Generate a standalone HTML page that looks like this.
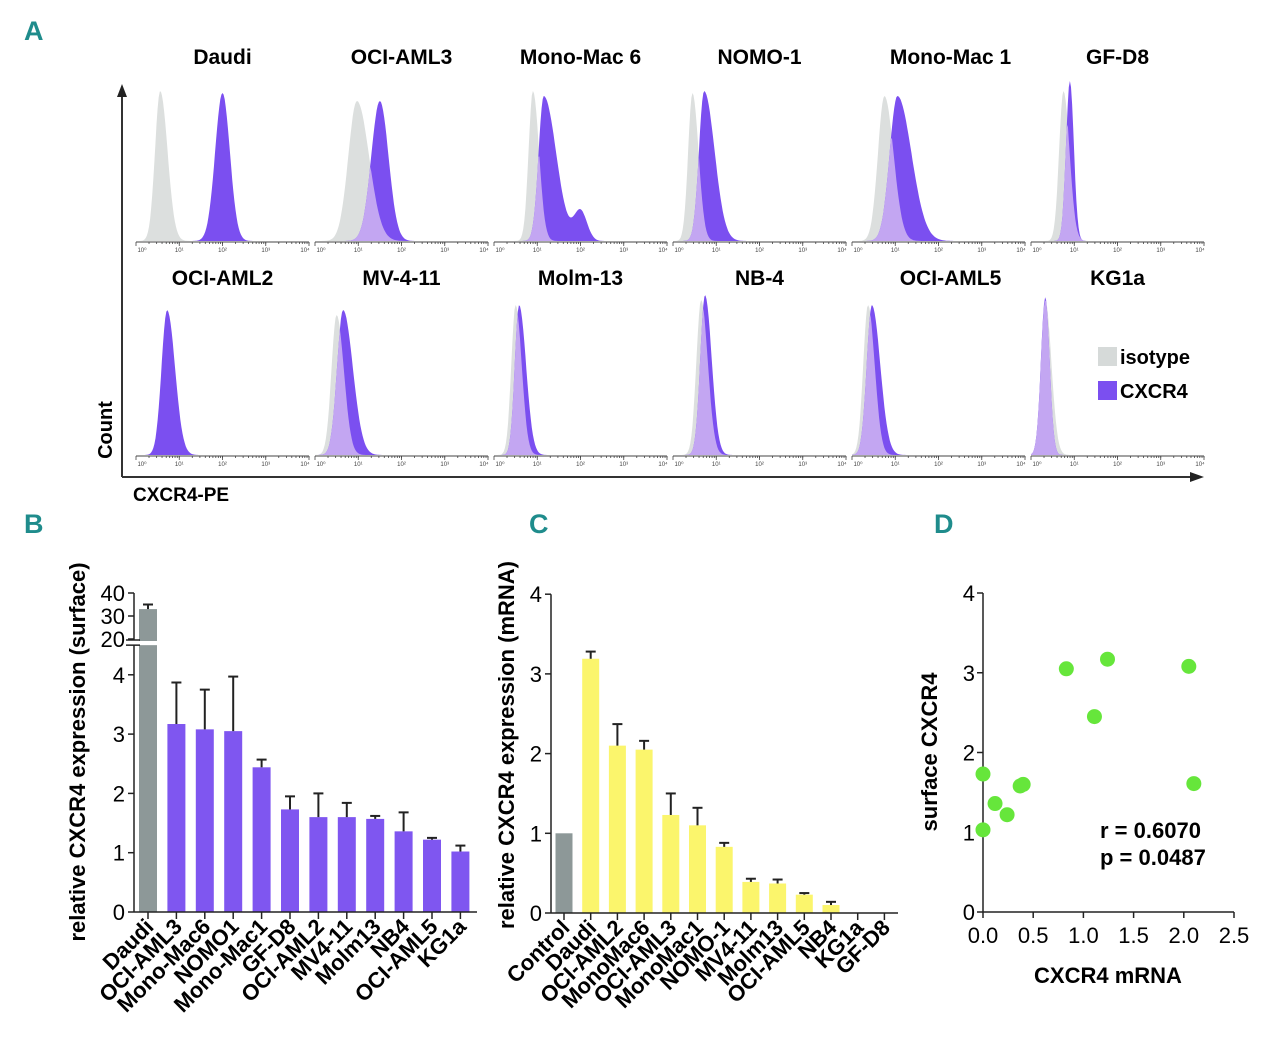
<!DOCTYPE html>
<html><head><meta charset="utf-8"><style>
body{margin:0;background:#fff;}
svg{display:block;font-family:"Liberation Sans",sans-serif;}
.pl{font-family:"Liberation Sans Narrow","Liberation Sans",sans-serif;font-weight:bold;fill:#1f8c8c;font-size:27px;}
.ht{font-weight:bold;font-size:21px;text-anchor:middle;}
.tk{font-size:22px;}
.cat{font-weight:bold;font-size:22px;text-anchor:end;}
.yt{font-weight:bold;font-size:22px;text-anchor:middle;}
.sm{font-size:6px;fill:#444;text-anchor:middle;}
</style></head><body>
<svg id="fig" width="1280" height="1054" viewBox="0 0 1280 1054">
<text class="pl" x="24" y="40">A</text>
<text class="pl" x="24" y="533">B</text>
<text class="pl" x="529" y="533">C</text>
<text class="pl" x="934" y="533">D</text>
<g id="hist"></g>
<g id="barB"></g>
<g id="barC"></g>
<g id="scat"></g>
</svg>
<script>
// ---------- Panel A data ----------
const histNames=["Daudi","OCI-AML3","Mono-Mac 6","NOMO-1","Mono-Mac 1","GF-D8","OCI-AML2","MV-4-11","Molm-13","NB-4","OCI-AML5","KG1a"];
const isoPeak=[0.56,0.97,0.9,0.45,0.75,0.75,0.72,0.5,0.5,0.65,0.37,0.33];
const isoSigma=[0.12,0.2,0.1,0.1,0.15,0.1,0.12,0.12,0.1,0.11,0.11,0.1];
const isoHeight=[150,140,150,148,145,150,140,140,150,155,150,155];
const cxPeak=[2.0,1.5,1.15,0.72,1.05,0.9,0.72,0.65,0.58,0.74,0.46,0.33];
const cxSigma=[0.17,0.2,0.12,0.12,0.18,0.09,0.13,0.14,0.1,0.11,0.12,0.1];
const cxHeight=[148,140,145,150,145,160,145,145,150,160,150,158];
const cxTail=[0,0,0.35,0.25,0.2,0,0.1,0.15,0.15,0.1,0.15,0];
const cxBump=[0,0,30,0,0,0,0,0,0,0,0,0];
const NS="http://www.w3.org/2000/svg";
function mk(tag,attrs,parent){const e=document.createElementNS(NS,tag);for(const k in attrs)e.setAttribute(k,attrs[k]);parent.appendChild(e);return e;}
const hist=document.getElementById('hist');
const panelX0=136,pitch=179,pw=173,base=[241,455];
function shape(d,p,s,h,tail){const sg=d<p?s:s*(1+tail*4);return h*Math.exp(-0.5*((d-p)/sg)**2);}
mk('line',{x1:122,y1:477,x2:122,y2:95,stroke:'#333','stroke-width':2},hist);
mk('polygon',{points:'117,97 127,97 122,84',fill:'#222'},hist);
mk('line',{x1:122,y1:477,x2:1192,y2:477,stroke:'#333','stroke-width':2},hist);
mk('polygon',{points:'1190,472 1190,482 1204,477',fill:'#222'},hist);
let t=mk('text',{x:112,y:430,transform:'rotate(-90 112 430)','font-weight':'bold','font-size':20,'text-anchor':'middle'},hist);t.textContent='Count';

t=mk('text',{x:133,y:501,'font-weight':'bold','font-size':19},hist);t.textContent='CXCR4-PE';

histNames.forEach((nm,i)=>{
  const row=Math.floor(i/6),col=i%6,x0=panelX0+col*pitch,b=base[row];
  const g=mk('g',{},hist);
  
  
  const N=160;let pi=[],pc=[],po=[];
  for(let k=0;k<=N;k++){const d=4*k/N,x=x0+d*pw/4;
    const iv=shape(d,isoPeak[i],isoSigma[i],isoHeight[i],0.1);
    let cv=shape(d,cxPeak[i],cxSigma[i],cxHeight[i],cxTail[i]);
    if(cxBump[i])cv+=cxBump[i]*Math.exp(-0.5*((d-2.0)/0.15)**2);
    pi.push(x.toFixed(1)+','+(b-iv).toFixed(1));pc.push(x.toFixed(1)+','+(b-cv).toFixed(1));po.push(x.toFixed(1)+','+(b-Math.min(iv,cv)).toFixed(1));}
  const close=' '+(x0+pw)+','+b+' '+x0+','+b;
  if(i!==6)mk('polygon',{points:pi.join(' ')+close,fill:'#dcdfde'},g);
  mk('polygon',{points:pc.join(' ')+close,fill:'#7b4ff0'},g);
  if(i!==6)mk('polygon',{points:po.join(' ')+close,fill:'#c3a6f2'},g);
  mk('line',{x1:x0,y1:b+1,x2:x0+pw,y2:b+1,stroke:'#444','stroke-width':1},g);
  for(let dd=0;dd<4;dd++)for(let m=1;m<=10;m++){const x=x0+(dd+Math.log10(m))*pw/4;mk('line',{x1:x,y1:b+1,x2:x,y2:b+(m===1?5:3),stroke:'#444','stroke-width':0.8},g);}
  mk('line',{x1:x0+pw,y1:b+1,x2:x0+pw,y2:b+5,stroke:'#444','stroke-width':0.8},g);
  for(let dd=0;dd<=4;dd++){const tx=mk('text',{x:x0+dd*pw/4+(dd===0?6:dd===4?-4:0),y:b+11,class:'sm'},g);tx.textContent='10'+String.fromCharCode([8304,185,178,179,8308][dd]);}
  const tt=mk('text',{x:x0+pw/2+(col===4?12:0),y:row?285:64,class:'ht'},g);tt.textContent=nm;
  
});
const lg=mk('g',{},hist);
mk('rect',{x:1098,y:347,width:19,height:19,fill:'#d6dad9'},lg);
mk('rect',{x:1098,y:381,width:19,height:19,fill:'#7b4ff0'},lg);
t=mk('text',{x:1120,y:364,'font-weight':'bold','font-size':20},lg);t.textContent='isotype';
t=mk('text',{x:1120,y:398,'font-weight':'bold','font-size':20},lg);t.textContent='CXCR4';

// ---------- Panel B data ----------
const bCats=["Daudi","OCI-AML3","Mono-Mac6","NOMO1","Mono-Mac1","GF-D8","OCI-AML2","MV4-11","Molm13","NB4","OCI-AML5","KG1a"];
const bVals=[33,3.17,3.08,3.05,2.44,1.73,1.6,1.6,1.57,1.36,1.22,1.02];
const bErr=[35,3.87,3.75,3.97,2.57,1.95,2.0,1.84,1.62,1.68,1.25,1.12];
const bLowTicks=[0,1,2,3,4];const bHighTicks=[20,30,40];
(function(){
  const g=document.getElementById('barB');
  const ax=134,y0=912,sc=59.3,hy20=639,hsc=2.3;
  const yl=v=>y0-v*sc, yh=v=>hy20-(v-20)*hsc;
  const bx=i=>148+i*28.4;
  bCats.forEach((c,i)=>{
    const v=bVals[i],e=bErr[i],x=bx(i);
    const r=mk('g',{},g);
    const col=i===0?'#8d9898':'#7f56f0';
    if(v>4.5){mk('rect',{x:x-9,y:yl(4.5),width:18,height:y0-yl(4.5),fill:col},r);
      mk('rect',{x:x-9,y:yh(v),width:18,height:hy20-yh(v)+2,fill:col},r);
      mk('line',{x1:x,y1:yh(v),x2:x,y2:yh(e),stroke:'#222','stroke-width':2},r);mk('line',{x1:x-5,y1:yh(e),x2:x+5,y2:yh(e),stroke:'#222','stroke-width':2},r);}
    else{mk('rect',{x:x-9,y:yl(v),width:18,height:y0-yl(v),fill:col},r);
      mk('line',{x1:x,y1:yl(v),x2:x,y2:yl(e),stroke:'#222','stroke-width':2},r);mk('line',{x1:x-5,y1:yl(e),x2:x+5,y2:yl(e),stroke:'#222','stroke-width':2},r);}
    mk('line',{x1:x,y1:y0,x2:x,y2:y0+7,stroke:'#222','stroke-width':1.5},g);
    const tx=mk('text',{x:x+7,y:y0+16,class:'cat',transform:`rotate(-45 ${x+7} ${y0+16})`},g);tx.textContent=c;
  });
  mk('line',{x1:ax,y1:yl(4.5),x2:ax,y2:y0,stroke:'#222','stroke-width':1.5},g);
  mk('line',{x1:ax,y1:yh(40),x2:ax,y2:hy20+1,stroke:'#222','stroke-width':1.5},g);
  mk('line',{x1:ax-8,y1:hy20+1,x2:ax+6,y2:hy20+1,stroke:'#222','stroke-width':1.5},g);
  mk('line',{x1:ax-8,y1:yl(4.5),x2:ax+6,y2:yl(4.5),stroke:'#222','stroke-width':1.5},g);
  mk('line',{x1:ax,y1:y0,x2:477,y2:y0,stroke:'#222','stroke-width':1.5},g);
  bLowTicks.forEach(v=>{mk('line',{x1:ax-6,y1:yl(v),x2:ax,y2:yl(v),stroke:'#222','stroke-width':1.5},g);const tx=mk('text',{x:ax-9,y:yl(v)+8,class:'tk','text-anchor':'end'},g);tx.textContent=v;});
  bHighTicks.forEach(v=>{mk('line',{x1:ax-6,y1:yh(v),x2:ax,y2:yh(v),stroke:'#222','stroke-width':1.5},g);const tx=mk('text',{x:ax-9,y:yh(v)+8,class:'tk','text-anchor':'end'},g);tx.textContent=v;});
  const yt=mk('text',{x:85,y:752,class:'yt',transform:'rotate(-90 85 752)'},g);yt.textContent='relative CXCR4 expression (surface)';
  
})();

// ---------- Panel C data ----------
const cCats=["Control","Daudi","OCI-AML2","MonoMac6","OCI-AML3","MonoMac1","NOMO-1","MV4-11","Molm13","OCI-AML5","NB4","KG1a","GF-D8"];
const cVals=[1.0,3.19,2.1,2.05,1.23,1.1,0.83,0.39,0.37,0.23,0.1,0,0];
const cErr=[1.0,3.28,2.37,2.16,1.5,1.32,0.88,0.43,0.42,0.25,0.14,0,0];
const cTicks=[0,1,2,3,4];
(function(){
  const g=document.getElementById('barC');
  const ax=551,y0=913,sc=79.7,yv=v=>y0-v*sc,bx=i=>564+i*26.7;
  cCats.forEach((c,i)=>{
    const v=cVals[i],e=cErr[i],x=bx(i);
    const r=mk('g',{},g);
    if(v>0)mk('rect',{x:x-8.5,y:yv(v),width:17,height:y0-yv(v),fill:i===0?'#8d9898':'#fbf56c'},r);
    if(e>v){mk('line',{x1:x,y1:yv(v),x2:x,y2:yv(e),stroke:'#222','stroke-width':2},r);mk('line',{x1:x-5,y1:yv(e),x2:x+5,y2:yv(e),stroke:'#222','stroke-width':2},r);}
    mk('line',{x1:x,y1:y0,x2:x,y2:y0+7,stroke:'#222','stroke-width':1.5},g);
    const tx=mk('text',{x:x+7,y:y0+16,class:'cat',transform:`rotate(-45 ${x+7} ${y0+16})`},g);tx.textContent=c;
  });
  mk('line',{x1:ax,y1:yv(4),x2:ax,y2:y0,stroke:'#222','stroke-width':1.5},g);
  mk('line',{x1:ax,y1:y0,x2:898,y2:y0,stroke:'#222','stroke-width':1.5},g);
  cTicks.forEach(v=>{mk('line',{x1:ax-6,y1:yv(v),x2:ax,y2:yv(v),stroke:'#222','stroke-width':1.5},g);const tx=mk('text',{x:ax-9,y:yv(v)+8,class:'tk','text-anchor':'end'},g);tx.textContent=v;});
  const yt=mk('text',{x:514,y:745,class:'yt',transform:'rotate(-90 514 745)'},g);yt.textContent='relative CXCR4 expression (mRNA)';
  
})();

// ---------- Panel D data ----------
const dX=[0.0,0.12,0.24,0.37,0.4,0.0,0.83,1.11,1.24,2.05,2.1];
const dY=[1.73,1.36,1.22,1.58,1.6,1.03,3.05,2.45,3.17,3.08,1.61];
const dXTicks=["0.0","0.5","1.0","1.5","2.0","2.5"];const dYTicks=[0,1,2,3,4];
(function(){
  const g=document.getElementById('scat');
  const ax=983,y0=912,xs=100.4,ys=79.75,px=v=>ax+v*xs,py=v=>y0-v*ys;
  mk('line',{x1:ax,y1:py(4),x2:ax,y2:y0,stroke:'#222','stroke-width':1.5},g);
  mk('line',{x1:ax,y1:y0,x2:px(2.5),y2:y0,stroke:'#222','stroke-width':1.5},g);
  dYTicks.forEach(v=>{mk('line',{x1:ax-6,y1:py(v),x2:ax,y2:py(v),stroke:'#222','stroke-width':1.5},g);const tx=mk('text',{x:ax-8,y:py(v)+8,class:'tk','text-anchor':'end'},g);tx.textContent=v;});
  dXTicks.forEach(s=>{const v=parseFloat(s);mk('line',{x1:px(v),y1:y0,x2:px(v),y2:y0+6,stroke:'#222','stroke-width':1.5},g);const tx=mk('text',{x:px(v),y:y0+31,class:'tk','text-anchor':'middle'},g);tx.textContent=s;});
  dX.forEach((v,i)=>{const c=mk('circle',{cx:px(v),cy:py(dY[i]),r:7.5,fill:'#66e63b'},g);
    });
  let tx=mk('text',{x:1108,y:983,'font-weight':'bold','font-size':22,'text-anchor':'middle'},g);tx.textContent='CXCR4 mRNA';
  
  tx=mk('text',{x:937,y:752,class:'yt',transform:'rotate(-90 937 752)'},g);tx.textContent='surface CXCR4';
  
  tx=mk('text',{x:1100,y:838,'font-weight':'bold','font-size':22},g);tx.textContent='r = 0.6070';
  
  tx=mk('text',{x:1100,y:865,'font-weight':'bold','font-size':22},g);tx.textContent='p = 0.0487';
  
})();
</script>
</body></html>
